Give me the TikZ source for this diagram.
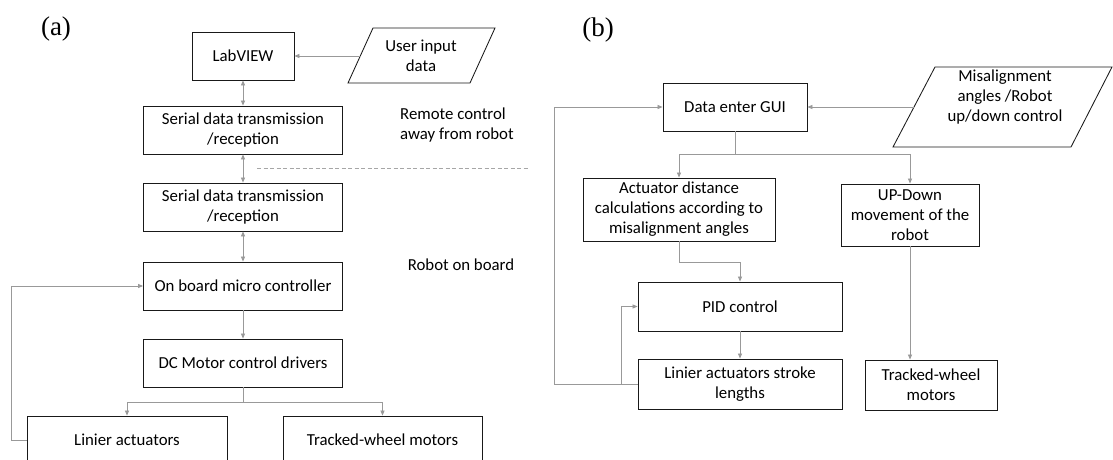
\documentclass[tikz,border=0pt]{standalone}
\usepackage{fontspec}
\setmainfont{Carlito}
\newfontfamily\timesfont{Liberation Serif}
\usetikzlibrary{arrows.meta}
\begin{document}
\begin{tikzpicture}[x=1pt,y=-1pt,
  box/.style={draw=black!90, line width=0.85pt, fill=white, inner sep=0pt, align=center,
    font=\fontsize{16.8}{20}\selectfont, text=black},
  plain/.style={inner sep=0pt, font=\fontsize{16.8}{20}\selectfont, text=black},
  shp/.style={draw=black!90, line width=0.85pt},
  conn/.style={draw=black!40, line width=0.8pt},
  arr/.style={conn, -{Triangle[length=5pt,width=4pt]}},
  darr/.style={conn, {Triangle[length=5pt,width=4pt]}-{Triangle[length=5pt,width=4pt]}},
  lbl/.style={inner sep=0pt, font=\timesfont\fontsize{27}{30}\selectfont, text=black}
]
\useasboundingbox (0,0) rectangle (1113,460);
\clip (0,0) rectangle (1113,460);
\fill[white] (0,0) rectangle (1113,460);

% ---------- panel (a) ----------
\node[lbl] (la) at (56,29) {(a)};
\node[box, minimum width=102pt, minimum height=48pt] (lab) at (243,56) {LabVIEW};
\node[box, minimum width=199pt, minimum height=48pt] (ser1) at (243,130) {Serial data transmission\\/reception};
\node[box, minimum width=199pt, minimum height=48pt] (ser2) at (243,207) {Serial data transmission\\/reception};
\node[box, minimum width=199pt, minimum height=48pt] (mcu) at (243,286) {On board micro controller};
\node[box, minimum width=199pt, minimum height=48pt] (dc) at (243,363) {DC Motor control drivers};
\node[box, minimum width=200pt, minimum height=48pt] (lin) at (127,440) {Linier actuators};
\node[box, minimum width=199pt, minimum height=48pt] (trk) at (382.5,440) {Tracked-wheel motors};

\coordinate (ui1) at (373,28);
\coordinate (ui2) at (495,28);
\coordinate (ui3) at (470,83);
\coordinate (ui4) at (348,83);
\draw[shp] (ui1) -- (ui2) -- (ui3) -- (ui4) -- cycle;
\node[plain, align=center] (uit) at (421,55.5) {User input\\data};
\coordinate (uiL) at (360.5,56);

\node[plain, align=left, anchor=west] (rc) at (400,125) {Remote control\\away from robot};
\node[plain] (rob) at (461,265) {Robot on board};

\coordinate (dashA) at (257,168);
\coordinate (dashB) at (528,168);
\draw[draw=black!35, line width=0.7pt, dash pattern=on 4pt off 2.5pt] (dashA) -- (dashB);

\draw[arr] (uiL) -- (lab.east);
\draw[darr] (lab.south) -- (ser1.north);
\draw[darr] (ser1.south) -- (ser2.north);
\draw[darr] (ser2.south) -- (mcu.north);
\draw[arr] (mcu.south) -- (dc.north);
\coordinate (brA) at (243,402);
\draw[conn] (dc.south) -- (brA);
\draw[arr] (brA) -| (lin.north);
\draw[arr] (brA) -| (trk.north);
\coordinate (fbA) at (11,440);
\draw[arr] (lin.west) -- (fbA) |- (mcu.west);

% ---------- panel (b) ----------
\node[lbl] (lb) at (598,30) {(b)};
\node[box, minimum width=144pt, minimum height=48pt] (gui) at (735,107) {Data enter GUI};
\coordinate (m1) at (935,67);
\coordinate (m2) at (1112,67);
\coordinate (m3) at (1071,147);
\coordinate (m4) at (893,147);
\draw[shp] (m1) -- (m2) -- (m3) -- (m4) -- cycle;
\node[plain, align=center] (mist) at (1005,97) {Misalignment\\angles /Robot\\up/down control};
\coordinate (misL) at (914,107);

\node[box, minimum width=192pt, minimum height=63pt] (act) at (679,209.5) {Actuator distance\\calculations according to\\misalignment angles};
\node[box, minimum width=138pt, minimum height=62pt] (upd) at (910,215) {UP-Down\\movement of the\\robot};
\node[box, minimum width=204pt, minimum height=49pt] (pid) at (740,306.5) {PID control};
\node[box, minimum width=204pt, minimum height=50pt] (lsl) at (740,384) {Linier actuators stroke\\lengths};
\node[box, minimum width=132pt, minimum height=50pt] (tw2) at (931,385) {Tracked-wheel\\motors};

\draw[arr] (misL) -- (gui.east);
\coordinate (gbr) at (735,154);
\draw[conn] (gui.south) -- (gbr);
\draw[arr] (gbr) -| (act.north);
\draw[arr] (gbr) -| (upd.north);
\coordinate (ab) at (679,262);
\draw[arr] (act.south) -- (ab) -| (pid.north);
\draw[arr] (pid.south) -- (lsl.north);
\draw[arr] (upd.south) -- (upd.south |- tw2.north);
\coordinate (fo) at (554,384);
\draw[arr] (lsl.west) -- (fo) |- (gui.west);
\coordinate (fi) at (621,384);
\draw[arr] (fi) |- (pid.west);
\end{tikzpicture}
\end{document}
